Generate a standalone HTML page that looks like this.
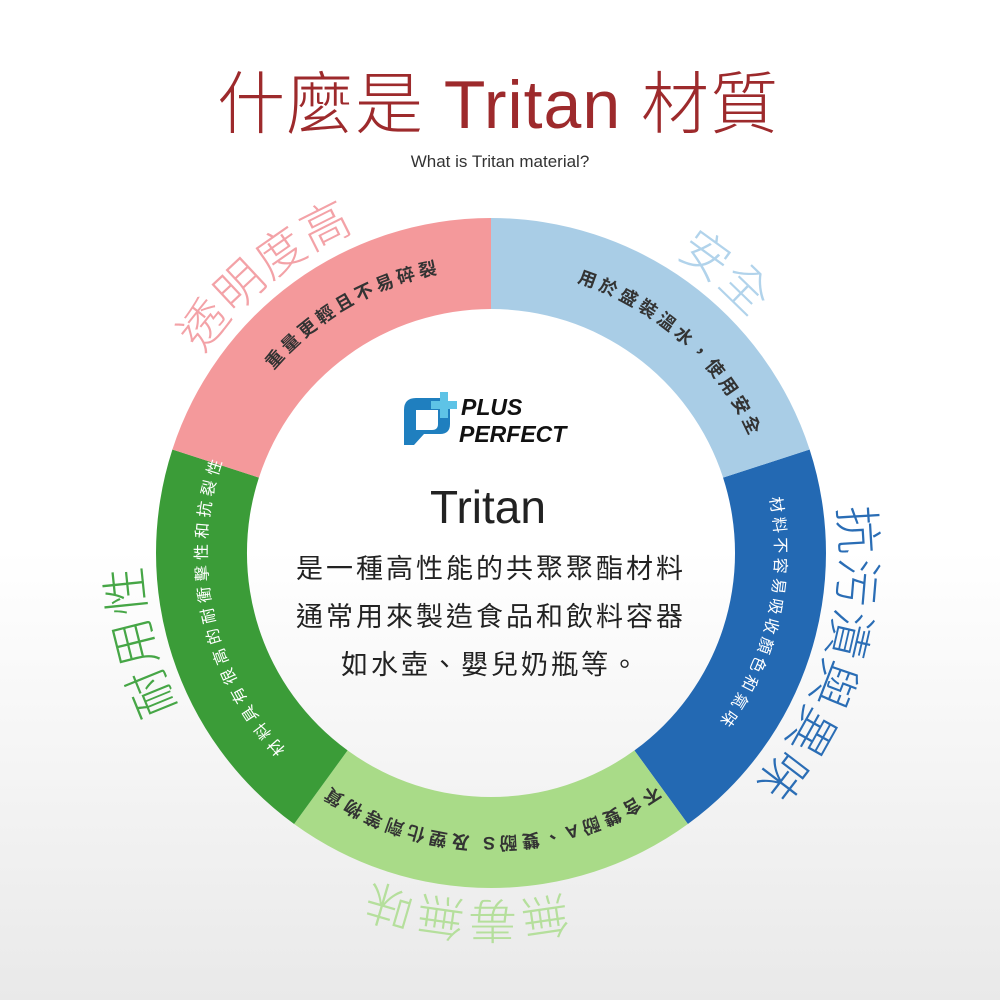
<!DOCTYPE html>
<html><head><meta charset="utf-8">
<style>
html,body{margin:0;padding:0;}
body{width:1000px;height:1000px;overflow:hidden;background:linear-gradient(#ffffff 0%,#ffffff 55%,#e9e9e9 100%);}
svg{display:block;}
.cjk{font-family:"Liberation Sans","Noto Sans CJK TC",sans-serif;}
</style></head><body>
<svg width="1000" height="1000" viewBox="0 0 1000 1000" xmlns="http://www.w3.org/2000/svg">
<defs>
<path id="r284" d="M207,553 A284,284 0 0 1 775,553"/>
<path id="r350" d="M141,553 A350,350 0 0 1 841,553"/>
<path id="sec" d="M826,553 A335,335 0 0 1 594.5,871.6 L566.4,785.1 A244,244 0 0 0 735,553 Z"/>
</defs>

<text x="498" y="128" text-anchor="middle" class="cjk" font-size="68" font-weight="300" fill="#9d2a2c" letter-spacing="1">什麼是 Tritan 材質</text>
<text x="500" y="167" text-anchor="middle" font-family="Liberation Sans,sans-serif" font-size="17" fill="#333">What is Tritan material?</text>

<use href="#sec" fill="#2369b3" transform="rotate(-18,491,553)"/>
<use href="#sec" fill="#a9db88" transform="rotate(54,491,553)"/>
<use href="#sec" fill="#3b9c38" transform="rotate(126,491,553)"/>
<use href="#sec" fill="#f4999b" transform="rotate(198,491,553)"/>
<use href="#sec" fill="#a9cde6" transform="rotate(270,491,553)"/>

<g class="cjk" font-size="18" font-weight="bold" letter-spacing="4">
<g transform="rotate(-30,491,553)"><text fill="#333"><textPath href="#r284" startOffset="50%" text-anchor="middle">重量更輕且不易碎裂</textPath></text></g>
<g transform="rotate(42,491,553)"><text fill="#333"><textPath href="#r284" startOffset="50%" text-anchor="middle">用於盛裝溫水，使用安全</textPath></text></g>
<g transform="rotate(103,491,553)"><text fill="#fff" font-weight="normal" font-size="16"><textPath href="#r284" startOffset="50%" text-anchor="middle">材料不容易吸收顏色和氣味</textPath></text></g>
<g transform="rotate(180,491,553)"><text fill="#333"><textPath href="#r284" startOffset="50%" text-anchor="middle">不含雙酚A、雙酚S 及塑化劑等物質</textPath></text></g>
<g transform="rotate(-102,491,553)"><text fill="#fff" font-weight="normal" font-size="16" letter-spacing="5"><textPath href="#r284" startOffset="50%" text-anchor="middle">材料具有很高的耐衝擊性和抗裂性</textPath></text></g>
</g>

<g class="cjk" font-size="48" font-weight="300" letter-spacing="2">
<g transform="rotate(-39,491,553)"><text fill="#f3a2a7"><textPath href="#r350" startOffset="50%" text-anchor="middle">透明度高</textPath></text></g>
<g transform="rotate(40,491,553)"><text fill="#b1d3eb"><textPath href="#r350" startOffset="50%" text-anchor="middle">安全</textPath></text></g>
<g transform="rotate(107,491,553)"><text fill="#2a6db5"><textPath href="#r350" startOffset="50%" text-anchor="middle">抗污漬與異味</textPath></text></g>
<g transform="rotate(184,491,553)"><text fill="#b5df9c"><textPath href="#r350" startOffset="50%" text-anchor="middle">無毒無味</textPath></text></g>
<g transform="rotate(-104,491,553)"><text fill="#46a646"><textPath href="#r350" startOffset="50%" text-anchor="middle">耐用性</textPath></text></g>
</g>

<g>
<path d="M404,410 Q404,398 416,398 L440,398 Q450,398 450,408 L450,424 Q450,434 440,434 L424,434 L414,445 L404,445 Z M416,410 L416,430 L432,430 Q438,430 438,424 L438,410 Z" fill="#1f7fbf" fill-rule="evenodd"/>
<rect x="440" y="392" width="8" height="26" fill="#5ec3e6"/>
<rect x="431" y="401" width="26" height="8" fill="#5ec3e6"/>
<text x="461" y="415" font-family="Liberation Sans,sans-serif" font-weight="bold" font-style="italic" font-size="23" fill="#111">PLUS</text>
<text x="459" y="442" font-family="Liberation Sans,sans-serif" font-weight="bold" font-style="italic" font-size="23" fill="#111">PERFECT</text>
</g>

<text x="488" y="523" text-anchor="middle" font-family="Liberation Sans,sans-serif" font-size="46" fill="#222">Tritan</text>
<g class="cjk" font-size="27" fill="#222" text-anchor="middle" letter-spacing="3">
<text x="491" y="578">是一種高性能的共聚聚酯材料</text>
<text x="491" y="626">通常用來製造食品和飲料容器</text>
<text x="491" y="674">如水壺、嬰兒奶瓶等。</text>
</g>
</svg>
</body></html>
